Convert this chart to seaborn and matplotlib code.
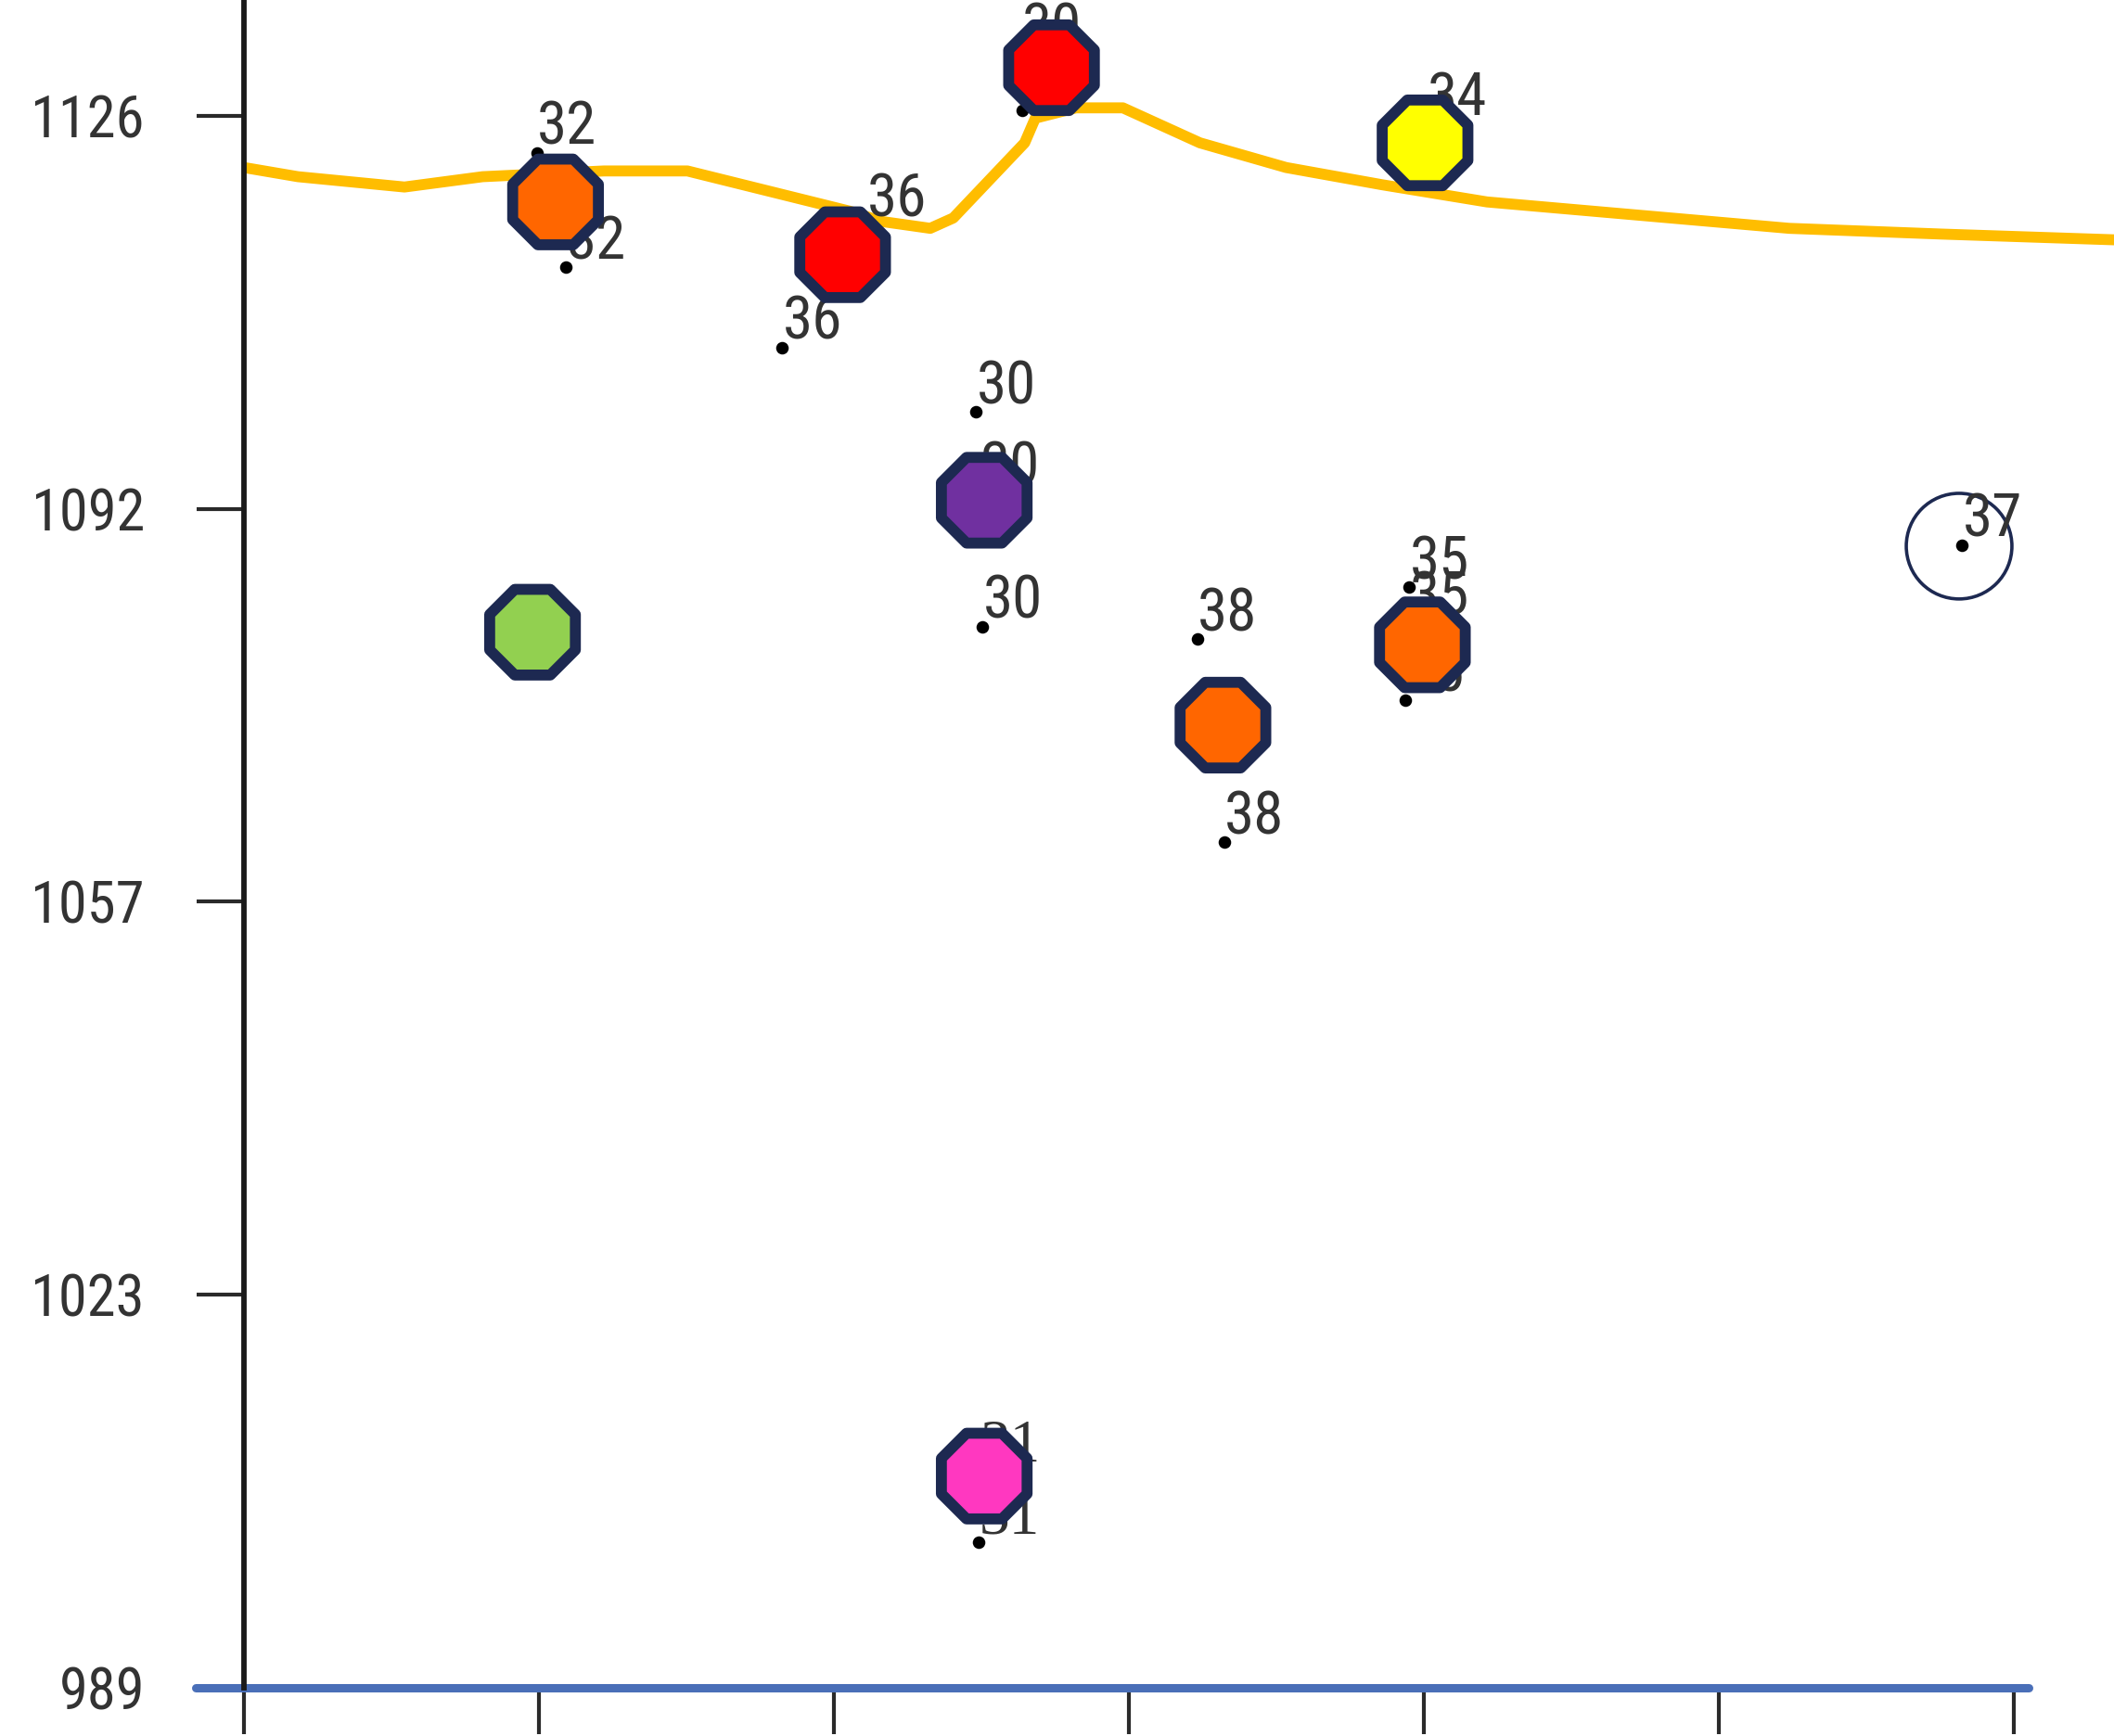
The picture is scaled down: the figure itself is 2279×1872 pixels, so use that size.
import numpy as np
import pandas as pd
import matplotlib
matplotlib.use("Agg")
import matplotlib.pyplot as plt
import seaborn as sns
from matplotlib import font_manager

# ---------------- data ----------------
line_x = [0.0, 0.183, 0.544, 0.809, 1.220, 1.503, 2.052, 2.161, 2.326, 2.404, 2.646,
          2.682, 2.820, 2.979, 3.240, 3.532, 3.857, 4.213, 5.237, 5.753, 6.338]
line_y = [1121.5, 1120.7, 1119.8, 1120.7, 1121.2, 1121.2, 1117.7, 1116.8, 1116.2, 1117.1,
          1123.65, 1125.8, 1126.7, 1126.7, 1123.65, 1121.5, 1120.0, 1118.5, 1116.2,
          1115.7, 1115.2]

station_x = [1.056, 2.029, 2.737, 4.003, 2.509, 0.978, 3.318, 3.994, 2.509]
station_y = [1118.5, 1113.9, 1130.2, 1123.65, 1092.5, 1081.0, 1072.9, 1079.9, 1007.45]
station_cls = ["orange", "red", "red", "yellow", "purple", "green", "orange", "orange", "pink"]

dot_x = [0.992, 1.092, 1.823, 2.111, 2.481, 2.495, 2.504, 3.231, 3.322, 3.948, 3.948,
         3.935, 4.008, 2.637, 2.637, 5.822, 2.495, 2.491]
dot_y = [1122.8, 1112.8, 1105.8, 1116.5, 1100.2, 1093.1, 1081.5, 1080.4, 1062.7, 1084.9,
         1081.8, 1075.1, 1125.3, 1126.5, 1131.4, 1088.6, 1008.0, 1001.7]
dot_label = ["32", "32", "36", "36", "30", "30", "30", "38", "38", "35", "35", "35",
             "34", "30", "30", "37", "31", "31"]

ring_x = [5.813]
ring_y = [1088.5]

ytick_values = [989, 1023.25, 1057.5, 1091.75, 1126]
ytick_labels = ["989", "1023", "1057", "1092", "1126"]
xtick_values = [0, 1, 2, 3, 4, 5, 6]

# ---------------- fonts ----------------
sns.set_style("white")


def pick_condensed():
    entries = font_manager.fontManager.ttflist
    prefs = ["Liberation Sans Narrow", "Arial Narrow", "Roboto Condensed",
             "Open Sans Condensed", "Noto Sans Condensed", "DejaVu Sans Condensed"]
    names = {f.name for f in entries}
    for p in prefs:
        if p in names:
            return p, "normal"
    for f in entries:
        if f.style == "normal" and f.stretch in ("condensed", "semi-condensed") \
                and f.weight in (400, "normal", "regular") and "Mono" not in f.name \
                and "Serif" not in f.name and "CJK" not in f.name:
            return f.name, f.stretch
    for f in entries:
        if ("Condensed" in f.name or "Narrow" in f.name) and "Mono" not in f.name:
            return f.name, "normal"
    return None, None


cname, cstretch = pick_condensed()
if cname is not None:
    sans = [cname, "DejaVu Sans"]
    stretch = cstretch
    lab_size, tick_size = 47, 45
else:
    sans = ["DejaVu Sans"]
    stretch = "normal"
    lab_size, tick_size = 40, 38
plt.rcParams["font.family"] = sans

palette = {"orange": "#FF6600", "red": "#FF0000", "yellow": "#FFFF00",
           "purple": "#7030A0", "green": "#92D050", "pink": "#FF38C0"}
edge = "#1d2951"
txt = "#333333"

fig = plt.figure(figsize=(22.79, 18.72), dpi=100)
ax = fig.add_axes([263 / 2279, 52 / 1872, 1 - 263 / 2279, 1 - 52 / 1872])

sns.lineplot(x=line_x, y=line_y, sort=False, estimator=None, color="#FFBD00",
             linewidth=8.5, ax=ax, zorder=2)

sns.scatterplot(x=dot_x, y=dot_y, color="black", s=95, linewidth=0, ax=ax, zorder=3,
                legend=False)
for xv, yv, lab in zip(dot_x, dot_y, dot_label):
    fam = ["Liberation Serif", "DejaVu Serif"] if lab == "31" else sans
    ax.annotate(lab, (xv, yv), xytext=(23.6, 6.5), textcoords="offset points",
                ha="center", va="baseline", fontsize=lab_size, color=txt, family=fam,
                fontstretch=stretch, zorder=4, annotation_clip=False)

ax.scatter(ring_x, ring_y, s=82 ** 2, facecolors="none", edgecolors=edge,
           linewidths=2.6, zorder=3)

df = pd.DataFrame({"x": station_x, "y": station_y, "cls": station_cls})
sns.scatterplot(data=df, x="x", y="y", hue="cls", palette=palette, marker="8",
                s=72 ** 2, edgecolor=edge, linewidth=8.5, legend=False, ax=ax, zorder=5)

ax.set_xlim(0, 6.338)
ax.set_ylim(989, 1136.1)
ax.set_xticks(xtick_values)
ax.set_xticklabels([])
ax.set_yticks(ytick_values)
ax.set_yticklabels(ytick_labels, fontstretch=stretch)
ax.set_xlabel("")
ax.set_ylabel("")

for s in ["top", "right", "bottom"]:
    ax.spines[s].set_visible(False)
ax.spines["left"].set_linewidth(4.2)
ax.spines["left"].set_color("#1a1a1a")

ax.tick_params(axis="x", direction="out", length=36, width=3, color="#2a2a2a",
               bottom=True, labelbottom=False)
ax.tick_params(axis="y", direction="out", length=37, width=3, color="#2a2a2a",
               left=True, pad=40, labelsize=tick_size, labelcolor=txt)

ax.axhline(989, xmin=-0.026, xmax=0.9546, color="#4a6fb8", linewidth=6.5,
           clip_on=False, zorder=2)

fig.savefig("out.png", dpi=100)
